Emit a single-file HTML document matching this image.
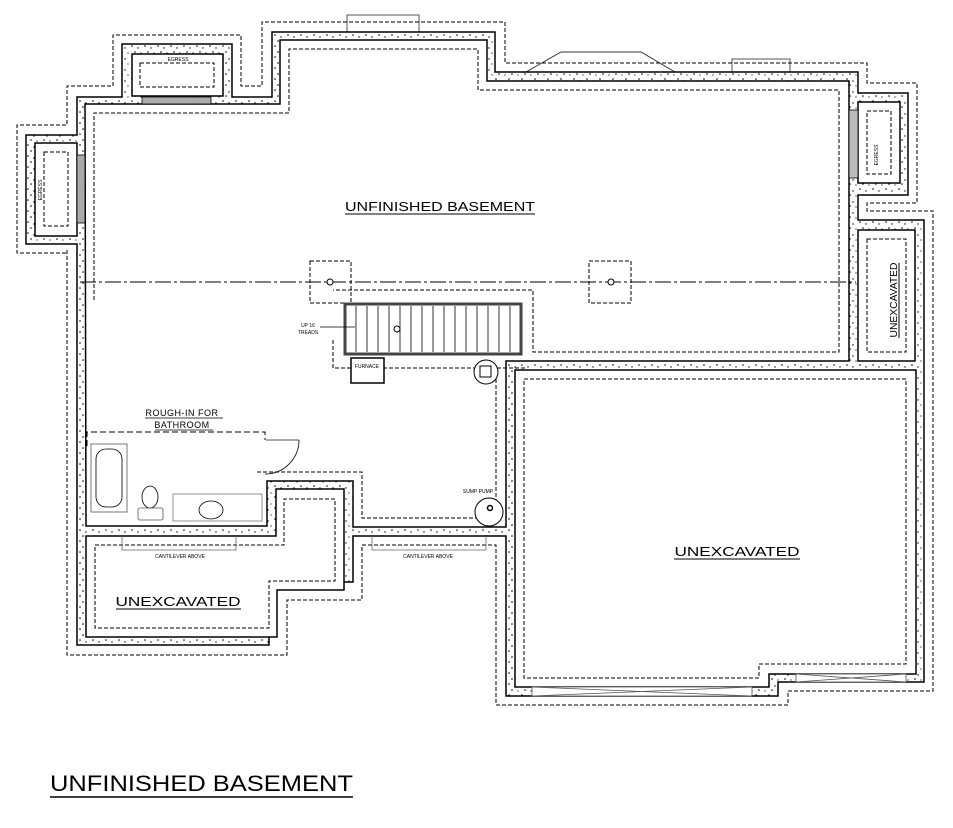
<!DOCTYPE html>
<html><head><meta charset="utf-8"><style>
html,body{margin:0;padding:0;background:#fff;}
svg{display:block;}
text{font-family:"Liberation Sans",sans-serif;fill:#000;}
</style></head><body>
<svg width="953" height="828" viewBox="0 0 953 828" xmlns="http://www.w3.org/2000/svg">
<defs>
<pattern id="dots" width="13" height="11" patternUnits="userSpaceOnUse">
<rect width="13" height="11" fill="#fff"/>
<circle cx="2" cy="2" r="0.8" fill="#000"/>
<circle cx="8" cy="4" r="0.7" fill="#000"/>
<circle cx="5" cy="8" r="0.8" fill="#000"/>
<circle cx="11" cy="9" r="0.6" fill="#000"/>
</pattern>
</defs>

<!-- exterior bumps -->
<rect x="347" y="15" width="72" height="17" fill="none" stroke="#555" stroke-width="1"/>
<polyline points="526,72 561,52 641,52 675,72" fill="none" stroke="#333" stroke-width="1"/>
<rect x="732" y="59" width="58" height="13" fill="none" stroke="#555" stroke-width="1"/>

<!-- outer dashed -->
<g fill="none" stroke="#000" stroke-width="1" stroke-dasharray="4,2">
<polyline points="67,250 67,655 287,655 287,600 362,600 362,545 496,545 496,705 788,705 788,691 933,691 933,211 867,211 867,203 917,203 917,83 867,83 867,63 505,63 505,22 262,22 262,86 241,86 241,35 113,35 113,86 67,86 67,125 17,125 17,253 67,253"/>
</g>

<!-- building with wall fill -->
<polygon points="77,97 122,97 122,44 232,44 232,97 272,97 272,32 495,32 495,72 858,72 858,93 908,93 908,195 858,195 858,220 924,220 924,682 778,682 778,696 506,696 506,536 353,536 353,582 269,582 269,645 77,645 77,244 26,244 26,135 77,135" fill="url(#dots)" stroke="#000" stroke-width="1.5"/>

<!-- rooms -->
<g fill="#fff" stroke="#000" stroke-width="1.5">
<polygon points="85,104 280,104 280,40 487,40 487,81 849,81 849,361 506,361 506,527 353,527 353,481 267,481 267,526 86,526"/>
<rect x="35" y="143" width="42" height="93"/>
<rect x="132" y="54" width="91" height="42"/>
<rect x="858" y="102" width="42" height="81"/>
<rect x="858" y="230" width="57" height="131"/>
<polygon points="515,370 916,370 916,674 769,674 769,687 515,687"/>
<polygon points="86,536 276,536 276,489 344,489 344,590 277,590 277,637 86,637"/>
</g>

<!-- windows -->
<rect x="142" y="97" width="69" height="7" fill="#aaa" stroke="#000" stroke-width="0.8"/>
<rect x="77" y="155" width="8" height="68" fill="#aaa" stroke="#000" stroke-width="0.8"/>
<rect x="849" y="110" width="9" height="68" fill="#bbb" stroke="#000" stroke-width="0.8"/>
<g stroke="#555" stroke-width="0.8" fill="#fff">
<rect x="532" y="687" width="220" height="9"/>
<path d="M532,687 L752,696 M532,696 L752,687" fill="none"/>
<rect x="796" y="674" width="110" height="8"/>
<path d="M796,674 L906,682 M796,682 L906,674" fill="none"/>
</g>

<!-- inner dashed -->
<g fill="none" stroke="#000" stroke-width="1" stroke-dasharray="4,2">
<polyline points="94,300 94,113 289,113 289,49 478,49 478,90 839,90 839,352 533,352 533,290 333,290"/>
<rect x="44" y="152" width="24" height="74"/>
<rect x="140" y="63" width="74" height="24"/>
<rect x="867" y="111" width="24" height="63"/>
<rect x="867" y="239" width="39" height="113"/>
<polygon points="524,379 906,379 906,664 759,664 759,678 524,678"/>
<polygon points="95,545 284,545 284,499 335,499 335,581 269,581 269,628 95,628"/>
<polyline points="257,472 362,472 362,518 496,518 496,368"/>
<rect x="310" y="261" width="41" height="42"/>
<rect x="589" y="261" width="42" height="42"/>
<polyline points="333,340 333,368 525,368"/>
</g>

<!-- centerline -->
<line x1="80" y1="282" x2="856" y2="282" stroke="#000" stroke-width="1" stroke-dasharray="16,3,3,3"/>
<circle cx="330" cy="282" r="3" fill="#fff" stroke="#000"/>
<circle cx="611" cy="282" r="3" fill="#fff" stroke="#000"/>

<!-- stairs -->
<rect x="345" y="304" width="176" height="50" fill="#fff" stroke="#444" stroke-width="3"/>
<g stroke="#000" stroke-width="0.8">
<line x1="356" y1="306" x2="356" y2="352"/><line x1="367" y1="306" x2="367" y2="352"/>
<line x1="378" y1="306" x2="378" y2="352"/><line x1="389" y1="306" x2="389" y2="352"/>
<line x1="400" y1="306" x2="400" y2="352"/><line x1="411" y1="306" x2="411" y2="352"/>
<line x1="422" y1="306" x2="422" y2="352"/><line x1="433" y1="306" x2="433" y2="352"/>
<line x1="444" y1="306" x2="444" y2="352"/><line x1="455" y1="306" x2="455" y2="352"/>
<line x1="466" y1="306" x2="466" y2="352"/><line x1="477" y1="306" x2="477" y2="352"/>
<line x1="488" y1="306" x2="488" y2="352"/><line x1="499" y1="306" x2="499" y2="352"/>
<line x1="510" y1="306" x2="510" y2="352"/>
<line x1="320" y1="327" x2="355" y2="327"/>
</g>
<circle cx="397" cy="329" r="3" fill="#fff" stroke="#000"/>
<text x="308" y="327" font-size="5" text-anchor="middle">UP 16</text>
<text x="308" y="334" font-size="5" text-anchor="middle">TREADS</text>

<!-- furnace, water heater, sump -->
<rect x="351" y="358" width="33" height="25" fill="#fff" stroke="#000" stroke-width="1.5"/>
<text x="367" y="368" font-size="5" text-anchor="middle">FURNACE</text>
<circle cx="486" cy="372" r="12" fill="#fff" stroke="#000"/>
<rect x="480" y="366" width="11" height="11" fill="none" stroke="#000"/>
<circle cx="489" cy="512" r="14" fill="#fff" stroke="#000"/>
<circle cx="490" cy="508" r="2.5" fill="none" stroke="#000" stroke-width="1.5"/>
<text x="478" y="493" font-size="5" text-anchor="middle">SUMP PUMP</text>

<!-- bathroom -->
<polyline points="87,446 87,432 265,432 265,440" fill="none" stroke="#000" stroke-dasharray="6,3"/>
<line x1="266" y1="440" x2="299" y2="440" stroke="#777" stroke-width="1.2"/>
<path d="M299,440 A34,34 0 0 1 265,474" fill="none" stroke="#000" stroke-width="0.8"/>
<rect x="91" y="444" width="36" height="68" fill="none" stroke="#777"/>
<rect x="96" y="449" width="26" height="58" rx="10" fill="none" stroke="#000" stroke-width="0.8"/>
<ellipse cx="150" cy="497" rx="8" ry="11" fill="none" stroke="#000" stroke-width="0.8"/>
<rect x="138" y="508" width="25" height="12" rx="2" fill="none" stroke="#555" stroke-width="0.8"/>
<rect x="173" y="494" width="89" height="27" fill="none" stroke="#777" stroke-width="0.8"/>
<ellipse cx="211" cy="510" rx="12" ry="9" fill="none" stroke="#000" stroke-width="0.8"/>
<text x="182" y="416" font-size="9" text-anchor="middle" letter-spacing="0.5">ROUGH-IN FOR</text>
<line x1="145" y1="418" x2="223" y2="418" stroke="#000" stroke-width="0.8"/>
<text x="182" y="428" font-size="9" text-anchor="middle" letter-spacing="0.5">BATHROOM</text>
<line x1="155" y1="430" x2="213" y2="430" stroke="#000" stroke-width="0.8"/>

<!-- cantilever -->
<polyline points="122,536 122,550 236,550 236,536" fill="none" stroke="#666" stroke-width="0.8"/>
<text x="180" y="558" font-size="5" text-anchor="middle">CANTILEVER ABOVE</text>
<polyline points="372,536 372,550 486,550 486,536" fill="none" stroke="#666" stroke-width="0.8"/>
<text x="428" y="558" font-size="5" text-anchor="middle">CANTILEVER ABOVE</text>

<!-- egress labels -->
<text x="178" y="61" font-size="5" text-anchor="middle">EGRESS</text>
<text transform="translate(42,190) rotate(-90)" font-size="5" text-anchor="middle">EGRESS</text>
<text transform="translate(878,155) rotate(-90)" font-size="5" text-anchor="middle">EGRESS</text>

<!-- big labels -->
<text x="440" y="211" font-size="13" text-anchor="middle" textLength="190" lengthAdjust="spacingAndGlyphs">UNFINISHED BASEMENT</text>
<line x1="345" y1="214" x2="535" y2="214" stroke="#000"/>
<text x="737" y="556" font-size="13" text-anchor="middle" textLength="125" lengthAdjust="spacingAndGlyphs">UNEXCAVATED</text>
<line x1="674" y1="559" x2="800" y2="559" stroke="#000"/>
<text x="178" y="606" font-size="13" text-anchor="middle" textLength="125" lengthAdjust="spacingAndGlyphs">UNEXCAVATED</text>
<line x1="116" y1="609" x2="241" y2="609" stroke="#000"/>
<text transform="translate(897,300) rotate(-90)" font-size="10" text-anchor="middle" textLength="75" lengthAdjust="spacingAndGlyphs">UNEXCAVATED</text>
<line x1="899" y1="263" x2="899" y2="338" stroke="#000"/>

<!-- title -->
<text x="50" y="791" font-size="22" textLength="303" lengthAdjust="spacingAndGlyphs">UNFINISHED BASEMENT</text>
<line x1="50" y1="797" x2="353" y2="797" stroke="#000" stroke-width="1.5"/>
</svg>
</body></html>
